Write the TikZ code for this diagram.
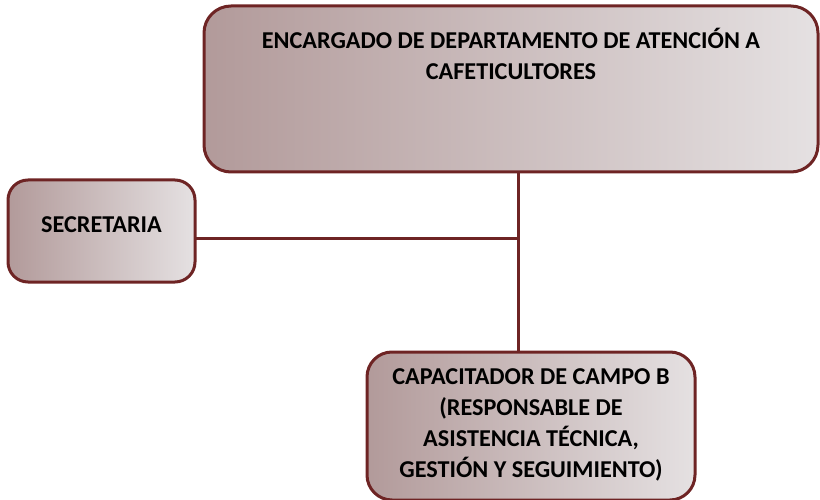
\documentclass[tikz,border=0pt]{standalone}
\usepackage{fontspec}
\setmainfont{Carlito}
\usetikzlibrary{positioning}

\definecolor{orgline}{RGB}{110,36,36}
\definecolor{orgdark}{RGB}{178,154,154}
\definecolor{orglight}{RGB}{229,225,226}

\tikzset{
	orgbox/.style={draw=orgline, line width=3pt, left color=orgdark, right color=orglight,
		rounded corners=22pt, outer sep=0pt, inner sep=0pt},
	boxtext/.style={align=center, font=\fontsize{24.2}{31}\selectfont\bfseries},
	linkline/.style={draw=orgline, line width=3pt}
}

\begin{document}
\begin{tikzpicture}[x=1pt, y=-1pt]
	\useasboundingbox (0,0) rectangle (820,500);
	
	\node[orgbox, minimum width=614pt, minimum height=166pt, rounded corners=27pt] (jefe) at (511,89) {};
	\node[boxtext, below=19pt of jefe.north] (jefetxt) {ENCARGADO DE DEPARTAMENTO DE ATENCIÓN A\\CAFETICULTORES};
	\node[orgbox, boxtext, minimum width=187pt, minimum height=102pt, rounded corners=20pt,
		below left=8pt and 9pt of jefe.south west] (secre) {SECRETARIA\\[-18pt]};
	\node[orgbox, boxtext, minimum width=328pt, minimum height=148pt, rounded corners=25pt,
		below right=180pt and 163pt of jefe.south west] (capac)
		{\mbox{}\\[-18pt]CAPACITADOR DE CAMPO B\\(RESPONSABLE DE\\ASISTENCIA TÉCNICA,\\GESTIÓN Y SEGUIMIENTO)};
	
	\coordinate (junc) at (518,238);
	
	\draw[linkline] (jefe.south -| junc) -- (capac.north -| junc);
	\draw[linkline] (secre.east |- junc) -- (junc);
\end{tikzpicture}
\end{document}
